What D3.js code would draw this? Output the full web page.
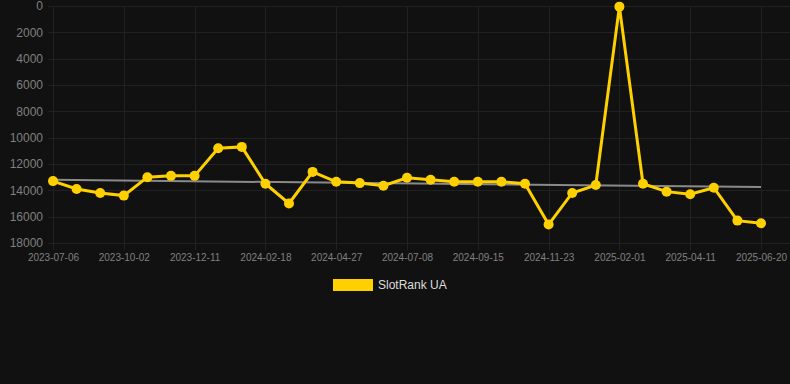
<!DOCTYPE html>
<meta charset="utf-8">
<style>
body {
  margin: 0;
  background: #111111;
}

svg {
  display: block;
  font-family: "Liberation Sans", Arial, sans-serif;
}

.grid line {
  stroke: #212121;
  stroke-width: 1px;
}

.axis .domain {
  display: none;
}

.axis .tick line {
  display: none;
}

.axis text {
  fill: #808080;
}

.series path {
  fill: none;
  stroke: #ffd000;
  stroke-width: 3px;
}

.series circle {
  fill: #ffd000;
}

.trend {
  fill: none;
  stroke: #8a8a8a;
  stroke-width: 2px;
}
</style>
<body>
<script src="https://cdn.jsdelivr.net/npm/d3@7"></script>
<script>

var dates = [
  "2023-07-06", "2023-08-04", "2023-09-02", "2023-10-02", "2023-10-25", "2023-11-17",
  "2023-12-11", "2024-01-03", "2024-01-26", "2024-02-18", "2024-03-12", "2024-04-04",
  "2024-04-27", "2024-05-21", "2024-06-14", "2024-07-08", "2024-07-31", "2024-08-23",
  "2024-09-15", "2024-10-08", "2024-10-31", "2024-11-23", "2024-12-16", "2025-01-08",
  "2025-02-01", "2025-02-24", "2025-03-19", "2025-04-11", "2025-05-04", "2025-05-27",
  "2025-06-20"
];

var rank = [
  13300, 13900, 14200, 14400, 13000, 12900, 12900, 10800, 10700, 13500,
  15000, 12600, 13350, 13450, 13650, 13050, 13200, 13350, 13350, 13350,
  13500, 16600, 14200, 13600, 50, 13500, 14100, 14300, 13800, 16300,
  16500
];

// trend line end values
var trend = [13200, 13750];

var yTicks = [0, 2000, 4000, 6000, 8000, 10000, 12000, 14000, 16000, 18000];

var seriesName = "SlotRank UA";

var width = 790,
    height = 384;

var x = d3.scalePoint()
    .domain(dates)
    .range([53, 761]);

var y = d3.scaleLinear()
    .domain([0, 18000])
    .range([6, 243]);

var svg = d3.select("body").append("svg")
    .attr("width", width)
    .attr("height", height);

var grid = svg.append("g")
    .attr("class", "grid");

grid.selectAll(".h")
    .data(yTicks)
  .enter().append("line")
    .attr("class", "h")
    .attr("x1", 48)
    .attr("x2", width)
    .attr("y1", function(d) { return Math.round(y(d)) + 0.5; })
    .attr("y2", function(d) { return Math.round(y(d)) + 0.5; });

var xTicks = dates.filter(function(d, i) { return i % 3 === 0; });

grid.selectAll(".v")
    .data(xTicks)
  .enter().append("line")
    .attr("class", "v")
    .attr("x1", function(d) { return Math.round(x(d)) + 0.5; })
    .attr("x2", function(d) { return Math.round(x(d)) + 0.5; })
    .attr("y1", 6)
    .attr("y2", 250);

svg.append("g")
    .attr("class", "axis axis--y")
    .attr("transform", "translate(43,0)")
    .call(d3.axisLeft(y)
        .tickValues(yTicks)
        .tickFormat(d3.format("d"))
        .tickSize(0)
        .tickPadding(0))
    .selectAll("text")
    .attr("font-size", "12px");

svg.append("g")
    .attr("class", "axis axis--x")
    .attr("transform", "translate(0,252)")
    .call(d3.axisBottom(x)
        .tickValues(xTicks)
        .tickSize(0)
        .tickPadding(2))
    .selectAll("text")
    .attr("font-size", "10px");

svg.append("path")
    .attr("class", "trend")
    .datum(trend)
    .attr("d", d3.line()
        .x(function(d, i) { return i === 0 ? x(dates[0]) : x(dates[dates.length - 1]); })
        .y(function(d) { return y(d); }));

var series = svg.append("g")
    .attr("class", "series");

series.append("path")
    .datum(rank)
    .attr("d", d3.line()
        .x(function(d, i) { return x(dates[i]); })
        .y(function(d) { return y(d); }));

series.selectAll("circle")
    .data(rank)
  .enter().append("circle")
    .attr("cx", function(d, i) { return x(dates[i]); })
    .attr("cy", function(d) { return y(d); })
    .attr("r", 5);

var legend = svg.append("g")
    .attr("transform", "translate(333,279)");

legend.append("rect")
    .attr("width", 40)
    .attr("height", 12)
    .attr("fill", "#ffd000");

legend.append("text")
    .attr("x", 45)
    .attr("y", 10)
    .attr("font-size", "12px")
    .attr("fill", "#dddddd")
    .text(seriesName);

</script>
